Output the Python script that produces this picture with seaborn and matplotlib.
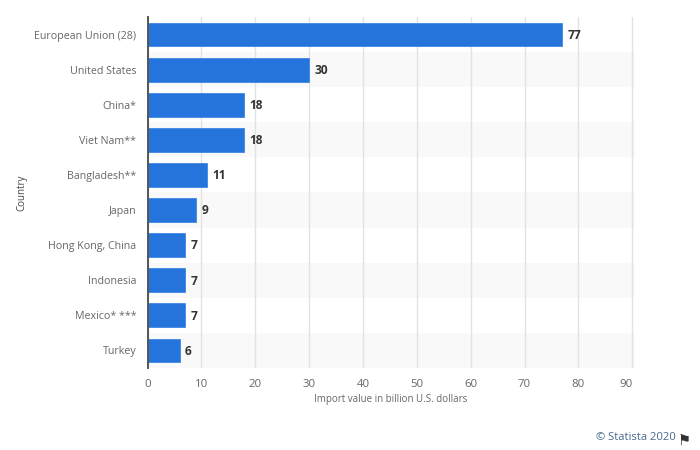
import pandas as pd
import seaborn as sns
import matplotlib.pyplot as plt

countries = ['European Union (28)', 'United States', 'China*', 'Viet Nam**', 'Bangladesh**',
             'Japan', 'Hong Kong, China', 'Indonesia', 'Mexico* ***', 'Turkey']
values = [77, 30, 18, 18, 11, 9, 7, 7, 7, 6]
x_ticks = [0, 10, 20, 30, 40, 50, 60, 70, 80, 90]

sns.set_theme(style='white')
plt.rcParams['font.family'] = ['Open Sans', 'DejaVu Sans']

df = pd.DataFrame({'Country': countries, 'Value': values})

fig = plt.figure(figsize=(7, 4.5), dpi=100)
ax = fig.add_axes([147.5 / 700, 82 / 450, 487 / 700, 351 / 450])

# Alternating row bands behind the bars
for i in range(len(countries)):
    if i % 2 == 1:
        ax.axhspan(i - 0.5, i + 0.5, color='#f9f9f9', lw=0, zorder=0)

sns.barplot(data=df, x='Value', y='Country', color='#2574dc', saturation=1, width=0.68,
            edgecolor='#3f86e4', linewidth=0.6, zorder=3, ax=ax)

ax.set_xlim(0, 90.4)
ax.set_ylim(len(countries) - 0.5, -0.5)
ax.set_xticks(x_ticks)
ax.grid(axis='x', color='#e2e2e2', linewidth=1.0, zorder=1)
ax.set_axisbelow(True)

for side in ['top', 'right', 'bottom']:
    ax.spines[side].set_visible(False)
ax.spines['left'].set_color('#555555')
ax.spines['left'].set_linewidth(1.4)
ax.spines['left'].set_zorder(5)

ax.tick_params(axis='both', length=0, labelsize=7.7, labelcolor='#666666')
ax.tick_params(axis='x', labelsize=8.2, pad=8)
ax.tick_params(axis='y', pad=8)
ax.get_xticklabels()[-1].set_ha('right')

ax.set_xlabel('Import value in billion U.S. dollars', fontsize=7, color='#666666', labelpad=2.5)
ax.set_ylabel('Country', fontsize=7, color='#444444')
ax.yaxis.set_label_coords(-120 / 487, 0.5)

# Value labels at the end of each bar
for i, v in enumerate(values):
    ax.annotate(str(v), (v, i), xytext=(3.8, -0.6), textcoords='offset points',
                ha='left', va='center', fontsize=8.6, fontweight='bold', color='#333333', zorder=6)

fig.text(676 / 700, 1 - 438 / 450, '\u00a9 Statista 2020', ha='right', va='center',
         fontsize=8.1, color='#4a6a8f')
fig.text(684 / 700, 1 - 441 / 450, '\u2691', ha='center', va='center', fontsize=10.5, color='#333333')

fig.savefig('out.png', dpi=100)
